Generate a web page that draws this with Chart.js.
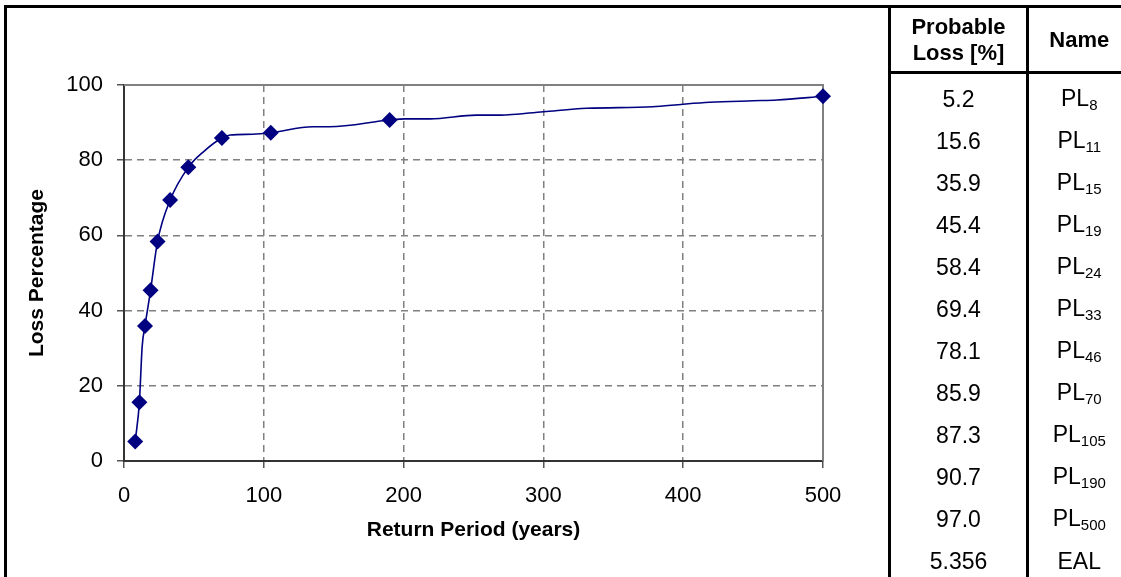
<!DOCTYPE html>
<html>
<head>
<meta charset="utf-8">
<script src="https://cdn.jsdelivr.net/npm/chart.js@4.4.0/dist/chart.umd.min.js"></script>
<style>
  body { margin: 0; background: #fff; font-family: "Liberation Sans", Arial, sans-serif; }
  #chartBox { position: absolute; left: 0; top: 0; width: 888px; height: 577px; }
  #frame { position: absolute; left: 4px; top: 5px; width: 1200px; height: 700px;
           border-left: 3px solid #000; border-top: 3px solid #000; pointer-events: none; }
  #tbl { position: absolute; left: 888px; top: 8px; border-collapse: collapse; table-layout: fixed; width: 240px; }
  #tbl th, #tbl td { border-left: 3px solid #000; padding: 0; text-align: center;
                     font-size: 23px; color: #000; }
  #tbl th { height: 63px; border-bottom: 3px solid #000; font-weight: bold; line-height: 26px; font-size: 22px; }
  #tbl td { height: 42px; }
  #tbl sub { font-size: 15px; vertical-align: -4px; }
  #tbl tr.first td { padding-top: 4px; }
</style>
</head>
<body>
<div id="chartBox"><canvas id="lossChart" width="888" height="577"></canvas></div>
<div id="frame"></div>
<table id="tbl">
  <colgroup><col style="width:138px"><col style="width:102px"></colgroup>
  <thead><tr><th>Probable<br>Loss [%]</th><th>Name</th></tr></thead>
  <tbody id="tbody"></tbody>
</table>
<script>
// marked return periods (years) and probable loss (%)
const returnPeriods = [8, 11, 15, 19, 24, 33, 46, 70, 105, 190, 500];
const probableLoss = [5.2, 15.6, 35.9, 45.4, 58.4, 69.4, 78.1, 85.9, 87.3, 90.7, 97.0];

// the drawn curve (passes through the markers)
const curvePeriods = [8, 11, 13, 15, 19, 24, 33, 46, 57, 70, 76, 92, 105, 135, 147, 190, 201, 219, 252, 269, 300, 331, 378, 400, 419, 450, 467, 500];
const curveLoss = [5.2, 15.6, 30.5, 35.9, 45.4, 58.4, 69.4, 78.1, 82.3, 85.9, 86.7, 86.9, 87.3, 88.9, 88.9, 90.7, 91.0, 91.0, 92.0, 92.0, 92.9, 93.8, 94.2, 94.9, 95.4, 95.8, 96.0, 97.0];

const ealValue = '5.356';
const ealName = 'EAL';

// table rows
const tbody = document.getElementById('tbody');
for (let i = 0; i < returnPeriods.length; i++) {
    const tr = document.createElement('tr');
    if (i === 0) tr.className = 'first';
    tr.innerHTML = '<td>' + probableLoss[i].toFixed(1) + '</td><td>PL<sub>' + returnPeriods[i] + '</sub></td>';
    tbody.appendChild(tr);
}
const trEal = document.createElement('tr');
trEal.innerHTML = '<td>' + ealValue + '</td><td>' + ealName + '</td>';
tbody.appendChild(trEal);

// solid gray frame on top and right of the plot
const framePlugin = {
    id: 'plotFrame',
    beforeDatasetsDraw(chart) {
        const {ctx, chartArea} = chart;
        ctx.save();
        ctx.strokeStyle = '#808080';
        ctx.lineWidth = 2;
        ctx.setLineDash([]);
        ctx.beginPath();
        ctx.moveTo(chartArea.left, chartArea.top);
        ctx.lineTo(chartArea.right, chartArea.top);
        ctx.lineTo(chartArea.right, chartArea.bottom);
        ctx.stroke();
        ctx.restore();
    }
};

const tickFont = { family: '"Liberation Sans", Arial, sans-serif', size: 22 };
const titleFont = { family: '"Liberation Sans", Arial, sans-serif', size: 21, weight: 'bold' };

const ctx = document.getElementById('lossChart').getContext('2d');
const lossChart = new Chart(ctx, {
    type: 'scatter',
    data: {
        datasets: [{
            label: 'markers',
            data: returnPeriods.map((p, i) => ({ x: p, y: probableLoss[i] })),
            pointStyle: 'rectRot',
            pointRadius: 8,
            backgroundColor: '#000080',
            borderColor: '#000080',
            borderWidth: 0,
            showLine: false,
            clip: false
        }, {
            label: 'curve',
            type: 'line',
            data: curvePeriods.map((p, i) => ({ x: p, y: curveLoss[i] })),
            borderColor: '#000080',
            borderWidth: 1.6,
            pointRadius: 0,
            cubicInterpolationMode: 'monotone',
            fill: false,
            clip: false
        }]
    },
    options: {
        responsive: false,
        animation: false,
        layout: { padding: { top: 85, right: 65, left: 0, bottom: 0 } },
        plugins: { legend: { display: false }, tooltip: { enabled: false } },
        scales: {
            x: {
                type: 'linear',
                min: 0,
                max: 500,
                ticks: { stepSize: 100, color: '#000', font: tickFont, padding: 15, maxRotation: 0 },
                grid: { color: '#808080', lineWidth: 1.5, tickColor: '#555', tickLength: 7, tickWidth: 1.5 },
                border: { color: '#333', width: 2, dash: [7, 5] },
                title: { display: true, text: 'Return Period (years)', color: '#000', font: titleFont, padding: { top: 0, bottom: 34 } },
                afterFit(scale) { scale.height = 116; }
            },
            y: {
                min: 0,
                max: 100,
                ticks: { stepSize: 20, color: '#000', font: tickFont, padding: 14 },
                grid: { color: '#808080', lineWidth: 1.5, tickColor: '#555', tickLength: 7, tickWidth: 1.5 },
                border: { color: '#333', width: 2, dash: [7, 5] },
                title: { display: true, text: 'Loss Percentage', color: '#000', font: titleFont, padding: { top: 25, bottom: 0 } },
                afterFit(scale) { scale.width = 124; }
            }
        }
    },
    plugins: [framePlugin]
});
</script>
</body>
</html>
